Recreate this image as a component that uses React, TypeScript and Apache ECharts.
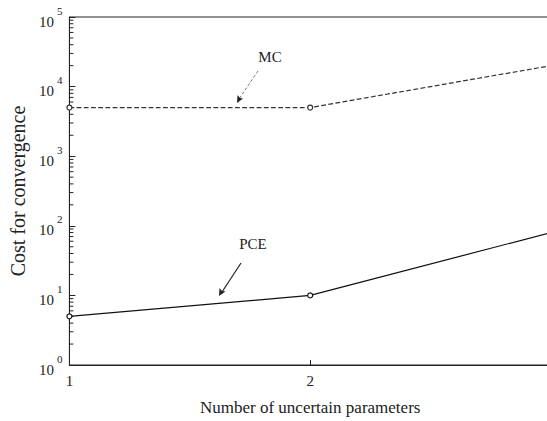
import React, { useEffect, useRef } from "react";
import * as echarts from "echarts";

const xValues = [1, 2, 3];
const mcCost = [5000, 5000, 20000];
const pceCost = [5, 10, 80];
const xTickLabels = ["1", "2"];
const yExponents = [0, 1, 2, 3, 4, 5];
const minorTickValues: number[] = [];
for (const e of [0, 1, 2, 3, 4]) {
  for (const m of [2, 3, 4, 5, 6, 7, 8, 9]) minorTickValues.push(m * Math.pow(10, e));
}

const FONT = "Liberation Serif";
const INK = "#222";

export default function App() {
  const ref = useRef<HTMLDivElement>(null);
  useEffect(() => {
    if (!ref.current) return;
    const chart = echarts.init(ref.current, undefined, { renderer: "svg" });
    const lineSeries = (name: string, data: number[], type: string, color: string) => ({
      name,
      type: "line",
      data: xValues.map((x, i) => [x, data[i]]),
      symbol: "circle",
      symbolSize: 5,
      showSymbol: true,
      itemStyle: { color: "#fff", borderColor: color, borderWidth: 1.2 },
      lineStyle: { color, width: 1.2, type },
      z: 3,
    });
    chart.setOption({
      animation: false,
      backgroundColor: "#fff",
      textStyle: { fontFamily: FONT },
      grid: {
        left: 69,
        right: 9,
        top: 17,
        bottom: 45,
        show: true,
        borderColor: INK,
        borderWidth: 1,
      },
      xAxis: {
        type: "value",
        min: 1,
        max: 3,
        interval: 1,
        name: "Number of uncertain parameters",
        nameLocation: "middle",
        nameGap: 34,
        nameTextStyle: { fontFamily: FONT, fontSize: 17, color: INK },
        axisLine: { show: true, lineStyle: { color: INK, width: 1 } },
        axisTick: { show: true, inside: true, length: 5, lineStyle: { color: INK } },
        axisLabel: {
          fontFamily: FONT,
          fontSize: 15,
          color: INK,
          margin: 8,
          formatter: (v: number) => xTickLabels[Math.round(v) - 1] ?? "",
        },
        splitLine: { show: false },
      },
      yAxis: {
        type: "log",
        logBase: 10,
        min: 1,
        max: 100000,
        name: "Cost for convergence",
        nameLocation: "middle",
        nameGap: 40,
        nameTextStyle: { fontFamily: FONT, fontSize: 20, color: INK },
        axisLine: { show: true, lineStyle: { color: INK, width: 1 } },
        axisTick: { show: true, inside: true, length: 6, lineStyle: { color: INK } },
        axisLabel: {
          fontFamily: FONT,
          color: INK,
          margin: 7,
          formatter: (v: number) => {
            const e = Math.round(Math.log10(v));
            return yExponents.includes(e) ? `{b|10}{e|${e}}` : "";
          },
          rich: {
            b: { fontFamily: FONT, fontSize: 15, color: INK, lineHeight: 24, verticalAlign: "bottom" },
            e: { fontFamily: FONT, fontSize: 11, color: INK, verticalAlign: "top", padding: [0, 0, 0, 3] },
          },
        },
        splitLine: { show: false },
      },
      series: [
        lineSeries("MC", mcCost, "dashed", "#333"),
        lineSeries("PCE", pceCost, "solid", "#111"),
        {
          type: "custom",
          name: "minorTicks",
          data: minorTickValues.map((v) => [1, v]),
          renderItem: (params: any, api: any) => {
            const p = api.coord([api.value(0), api.value(1)]);
            return {
              type: "line",
              shape: { x1: p[0], y1: p[1], x2: p[0] + 4, y2: p[1] },
              style: { stroke: INK, lineWidth: 1 },
            };
          },
          silent: true,
          z: 2,
        },
      ],
      graphic: [
        { type: "text", x: 270, y: 57, style: { text: "MC", font: `15px ${FONT}`, fill: INK, textAlign: "center", textVerticalAlign: "middle" } },
        { type: "line", shape: { x1: 258, y1: 71, x2: 239, y2: 99 }, style: { stroke: "#777", lineWidth: 1, lineDash: [3, 2] } },
        { type: "polygon", shape: { points: [[237, 103], [237.5, 95], [240, 98], [243, 98.5]] }, style: { fill: "#222" } },
        { type: "text", x: 253, y: 244, style: { text: "PCE", font: `15px ${FONT}`, fill: INK, textAlign: "center", textVerticalAlign: "middle" } },
        { type: "line", shape: { x1: 241, y1: 263, x2: 222, y2: 292 }, style: { stroke: "#222", lineWidth: 1.2 } },
        { type: "polygon", shape: { points: [[219, 296], [219.5, 288], [222, 291], [225.5, 291.5]] }, style: { fill: "#222" } },
      ],
    });
    return () => chart.dispose();
  }, []);
  return (
    <div style={{ position: "fixed", left: 0, top: 0, width: 547, height: 421, overflow: "hidden" }}>
      <div ref={ref} style={{ width: 560, height: 421 }} />
    </div>
  );
}
